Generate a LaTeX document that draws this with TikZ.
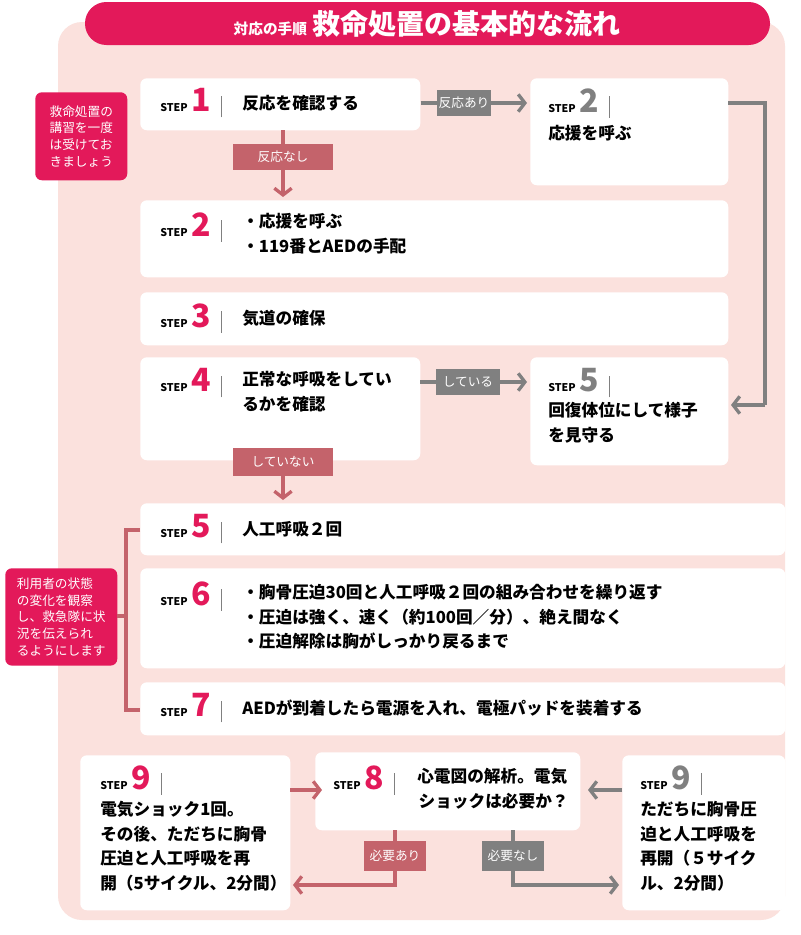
\documentclass[tikz,border=0pt]{standalone}
\usepackage{fontspec}
\setmainfont{Noto Sans CJK JP}
\usetikzlibrary{arrows.meta}
\definecolor{crim}{HTML}{E3195A}
\definecolor{pinkbg}{HTML}{FBE1DD}
\definecolor{rose}{HTML}{C4636B}
\definecolor{gry}{HTML}{808080}
\newcommand{\stepmark}[2]{{\fontsize{8}{8}\selectfont\bfseries STEP}\hspace{3pt}{\fontsize{24}{24}\selectfont\bfseries\color{#2}#1}\hspace{7pt}{\color{gray}\rule[-4pt]{0.6pt}{16pt}}}
\begin{document}
\begin{tikzpicture}[x=0.75pt,y=-0.75pt,
 box/.style={fill=white,rounded corners=5pt,anchor=north west,inner sep=0pt},
 note/.style={fill=crim,rounded corners=5pt,anchor=north west,inner sep=0pt},
 notet/.style={text=white,font=\fontsize{9.5}{12.5}\selectfont,align=left},
 lbl/.style={text=white,font=\fontsize{9.5}{10}\selectfont,inner sep=0pt},
 mk/.style={anchor=west,inner sep=0pt},
 tx/.style={anchor=north west,inner sep=0pt,align=left,font=\fontsize{12.5}{18.5}\selectfont\bfseries},
 arr/.style={line width=3.5pt,-{Straight Barb[length=5pt,width=13pt,line width=2.5pt]}},
 ln/.style={line width=3.5pt}]
\fill[white] (0,0) rectangle (800,935);
\fill[pinkbg,rounded corners=18pt] (58,22) rectangle (785,920);
\fill[crim,rounded corners=16pt] (85,2) rectangle (770,45);
\node[text=white,inner sep=0pt] (title) at (427,24) {{\fontsize{11}{12}\selectfont\bfseries 対応の手順}\hspace{4pt}{\fontsize{21}{22}\selectfont\bfseries 救命処置の基本的な流れ}};
% notes
\node[note,minimum width=69pt,minimum height=66pt] (n1) at (35,92) {};
\node[notet] (n1t) at (n1.center) {救命処置の\\講習を一度\\は受けてお\\きましょう};
\node[note,minimum width=84pt,minimum height=73pt] (n2) at (5,568) {};
\node[notet] (n2t) at (n2.center) {利用者の状態\\の変化を観察\\し、救急隊に状\\況を伝えられ\\るようにします};
% boxes
\node[box,minimum width=210pt,minimum height=39pt] (s1) at (140,78) {};
\node[box,minimum width=148.5pt,minimum height=80.25pt] (s2r) at (530,78) {};
\node[box,minimum width=441pt,minimum height=57.75pt] (s2) at (140,200) {};
\node[box,minimum width=441pt,minimum height=39.75pt] (s3) at (140,292) {};
\node[box,minimum width=210pt,minimum height=77.25pt] (s4) at (140,357) {};
\node[box,minimum width=148.5pt,minimum height=81pt] (s5r) at (530,357) {};
\node[box,minimum width=483.75pt,minimum height=39pt] (s5) at (140,503) {};
\node[box,minimum width=483.75pt,minimum height=75pt] (s6) at (140,568) {};
\node[box,minimum width=483.75pt,minimum height=39.75pt] (s7) at (140,682) {};
\node[box,minimum width=157.5pt,minimum height=116.25pt] (s9l) at (80,755) {};
\node[box,minimum width=198.75pt,minimum height=58.5pt] (s8) at (315,752) {};
\node[box,minimum width=122.25pt,minimum height=116.25pt] (s9r) at (622,755) {};
% step marks
\node[mk] (m1) at (160,103) {\stepmark{1}{crim}};
\node[tx,anchor=west] (t1) at (242,103) {反応を確認する};
\node[mk] (m2r) at (548,103) {\stepmark{2}{gry}};
\node[tx] (t2r) at (548,125) {応援を呼ぶ};
\node[mk] (m2) at (160,227) {\stepmark{2}{crim}};
\node[tx] (t2) at (242,213) {・応援を呼ぶ\\・119番とAEDの手配};
\node[mk] (m3) at (160,318) {\stepmark{3}{crim}};
\node[tx,anchor=west] (t3) at (242,318) {気道の確保};
\node[mk] (m4) at (160,383) {\stepmark{4}{crim}};
\node[tx] (t4) at (242,371) {正常な呼吸をしてい\\るかを確認};
\node[mk] (m5r) at (548,383) {\stepmark{5}{gry}};
\node[tx] (t5r) at (548,402) {回復体位にして様子\\を見守る};
\node[mk] (m5) at (160,529) {\stepmark{5}{crim}};
\node[tx,anchor=west] (t5) at (242,529) {人工呼吸２回};
\node[mk] (m6) at (160,596) {\stepmark{6}{crim}};
\node[tx] (t6) at (242,584) {・胸骨圧迫30回と人工呼吸２回の組み合わせを繰り返す\\・圧迫は強く、速く（約100回／分）、絶え間なく\\・圧迫解除は胸がしっかり戻るまで};
\node[mk] (m7) at (160,708) {\stepmark{7}{crim}};
\node[tx,anchor=west] (t7) at (242,708) {AEDが到着したら電源を入れ、電極パッドを装着する};
\node[mk] (m9l) at (100,780) {\stepmark{9}{crim}};
\node[tx] (t9l) at (100,801) {電気ショック1回。\\その後、ただちに胸骨\\圧迫と人工呼吸を再\\開（5サイクル、2分間）};
\node[mk] (m8) at (333,780) {\stepmark{8}{crim}};
\node[tx] (t8) at (417,768) {心電図の解析。電気\\\hspace{1pt}ショックは必要か？};
\node[mk] (m9r) at (640,780) {\stepmark{9}{gry}};
\node[tx] (t9r) at (640,801) {ただちに胸骨圧\\迫と人工呼吸を\\再開（５サイク\\ル、2分間）};
% connectors
\coordinate (c1) at (527,103);
\draw[arr,gry] (s1.east |- 0,103) -- (c1);
\node[fill=gry,minimum width=41pt,minimum height=19pt,lbl] (l1) at (464,103) {反応あり};
\draw[arr,rose] (283,130) -- (283,197);
\node[fill=rose,minimum width=75pt,minimum height=20pt,lbl] (l2) at (283,157) {反応なし};
\coordinate (c2a) at (765,103);
\coordinate (c2b) at (765,405);
\draw[ln,gry] (728,103) -- (c2a) -- (c2b);
\draw[arr,gry] (c2b) -- (731,405);
\draw[arr,gry] (420,382) -- (527,382);
\node[fill=gry,minimum width=48pt,minimum height=19pt,lbl] (l3) at (468,382) {している};
\draw[arr,rose] (283,460) -- (283,500);
\node[fill=rose,minimum width=75pt,minimum height=21pt,lbl] (l4) at (283,462) {していない};
% bracket
\draw[rose,line width=2.5pt] (140,530) -- (126,530) -- (126,710) -- (140,710);
\draw[rose,line width=2.5pt] (117,616) -- (126,616);
% bottom arrows
\draw[arr,rose] (290,790) -- (322,790);
\draw[arr,gry] (622,790) -- (588,790);
\draw[ln,rose] (395,830) -- (395,885);
\draw[arr,rose] (396.75,885) -- (293,885);
\node[fill=rose,minimum width=47pt,minimum height=23pt,lbl] (l5) at (395,856) {必要あり};
\draw[ln,gry] (513,830) -- (513,885);
\draw[arr,gry] (511.25,885) -- (619,885);
\node[fill=gry,minimum width=47pt,minimum height=23pt,lbl] (l6) at (513,856) {必要なし};
\end{tikzpicture}
\end{document}
